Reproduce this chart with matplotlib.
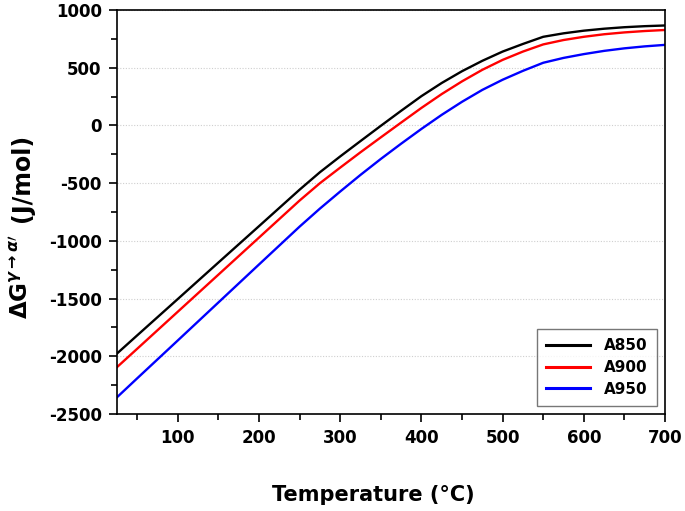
import matplotlib
matplotlib.use("Agg")
import matplotlib.pyplot as plt
from matplotlib.ticker import MultipleLocator

plt.rcParams['font.family'] = ['DejaVu Sans']
plt.rcParams['font.weight'] = 'bold'
plt.rcParams['axes.unicode_minus'] = False
plt.rcParams['mathtext.fontset'] = 'dejavusans'

temperature = [25, 50, 100, 150, 200, 250, 275, 300, 325, 350, 375, 400, 425, 450,
               475, 500, 525, 550, 575, 600, 625, 650, 675, 700]
a850 = [-1976, -1818, -1503, -1187, -872, -556, -405, -268, -135, -3, 127, 254, 368, 470,
        560, 640, 706, 768, 798, 821, 838, 851, 860, 866]
a900 = [-2094, -1934, -1613, -1292, -971, -650, -500, -365, -232, -103, 25, 152, 272, 382,
        482, 568, 640, 702, 740, 768, 790, 806, 818, 827]
a950 = [-2355, -2190, -1862, -1533, -1204, -876, -720, -572, -428, -290, -158, -30, 92, 205,
        308, 396, 473, 543, 585, 618, 646, 668, 685, 698]
series_names = ["A850", "A900", "A950"]
series_colors = ["#000000", "#ff0000", "#0000ff"]

fig = plt.figure(figsize=(6.85, 5.11), dpi=100)
ax = fig.add_axes([0.1708, 0.1898, 0.8000, 0.7906])

for vals, name, col in zip([a850, a900, a950], series_names, series_colors):
    ax.plot(temperature, vals, color=col, lw=1.7, label=name)

ax.set_xlim(25, 700)
ax.set_ylim(-2500, 1000)
ax.xaxis.set_major_locator(MultipleLocator(100))
ax.xaxis.set_minor_locator(MultipleLocator(50))
ax.yaxis.set_major_locator(MultipleLocator(500))
ax.yaxis.set_minor_locator(MultipleLocator(250))
ax.tick_params(which='major', direction='out', length=6, width=1.2, labelsize=12, pad=5)
ax.tick_params(which='minor', direction='out', length=4, width=1.2)
ax.tick_params(top=False, right=False, which='both')
for s in ax.spines.values():
    s.set_linewidth(1.2)

ax.grid(axis='y', which='major', color='#cfcfcf', linestyle=(0, (1, 1.5)), lw=0.8)
ax.set_axisbelow(True)

ax.set_xlabel("Temperature (°C)", fontsize=15, fontweight='bold')
ax.xaxis.set_label_coords(0.467, -0.175)

fig.text(0.0423, 0.6526, "(J/mol)", rotation=90, rotation_mode='anchor',
         ha='center', va='baseline', fontsize=17, fontweight='bold')
fig.text(0.0423, 0.459, r"$\Delta$G$^{\gamma\rightarrow\alpha\prime}$", rotation=90,
         rotation_mode='anchor', ha='center', va='baseline', fontsize=16.5, fontweight='bold')

leg = ax.legend(loc='lower right', bbox_to_anchor=(0.985, 0.02), borderaxespad=0,
                fontsize=11, frameon=True, fancybox=False, edgecolor='#555555',
                handlelength=2.9, borderpad=0.6, labelspacing=0.45, handletextpad=0.9)
leg.get_frame().set_linewidth(1.0)
for line in leg.get_lines():
    line.set_linewidth(2.2)
for t in leg.get_texts():
    t.set_fontweight('bold')

fig.savefig("out.png", dpi=100)
